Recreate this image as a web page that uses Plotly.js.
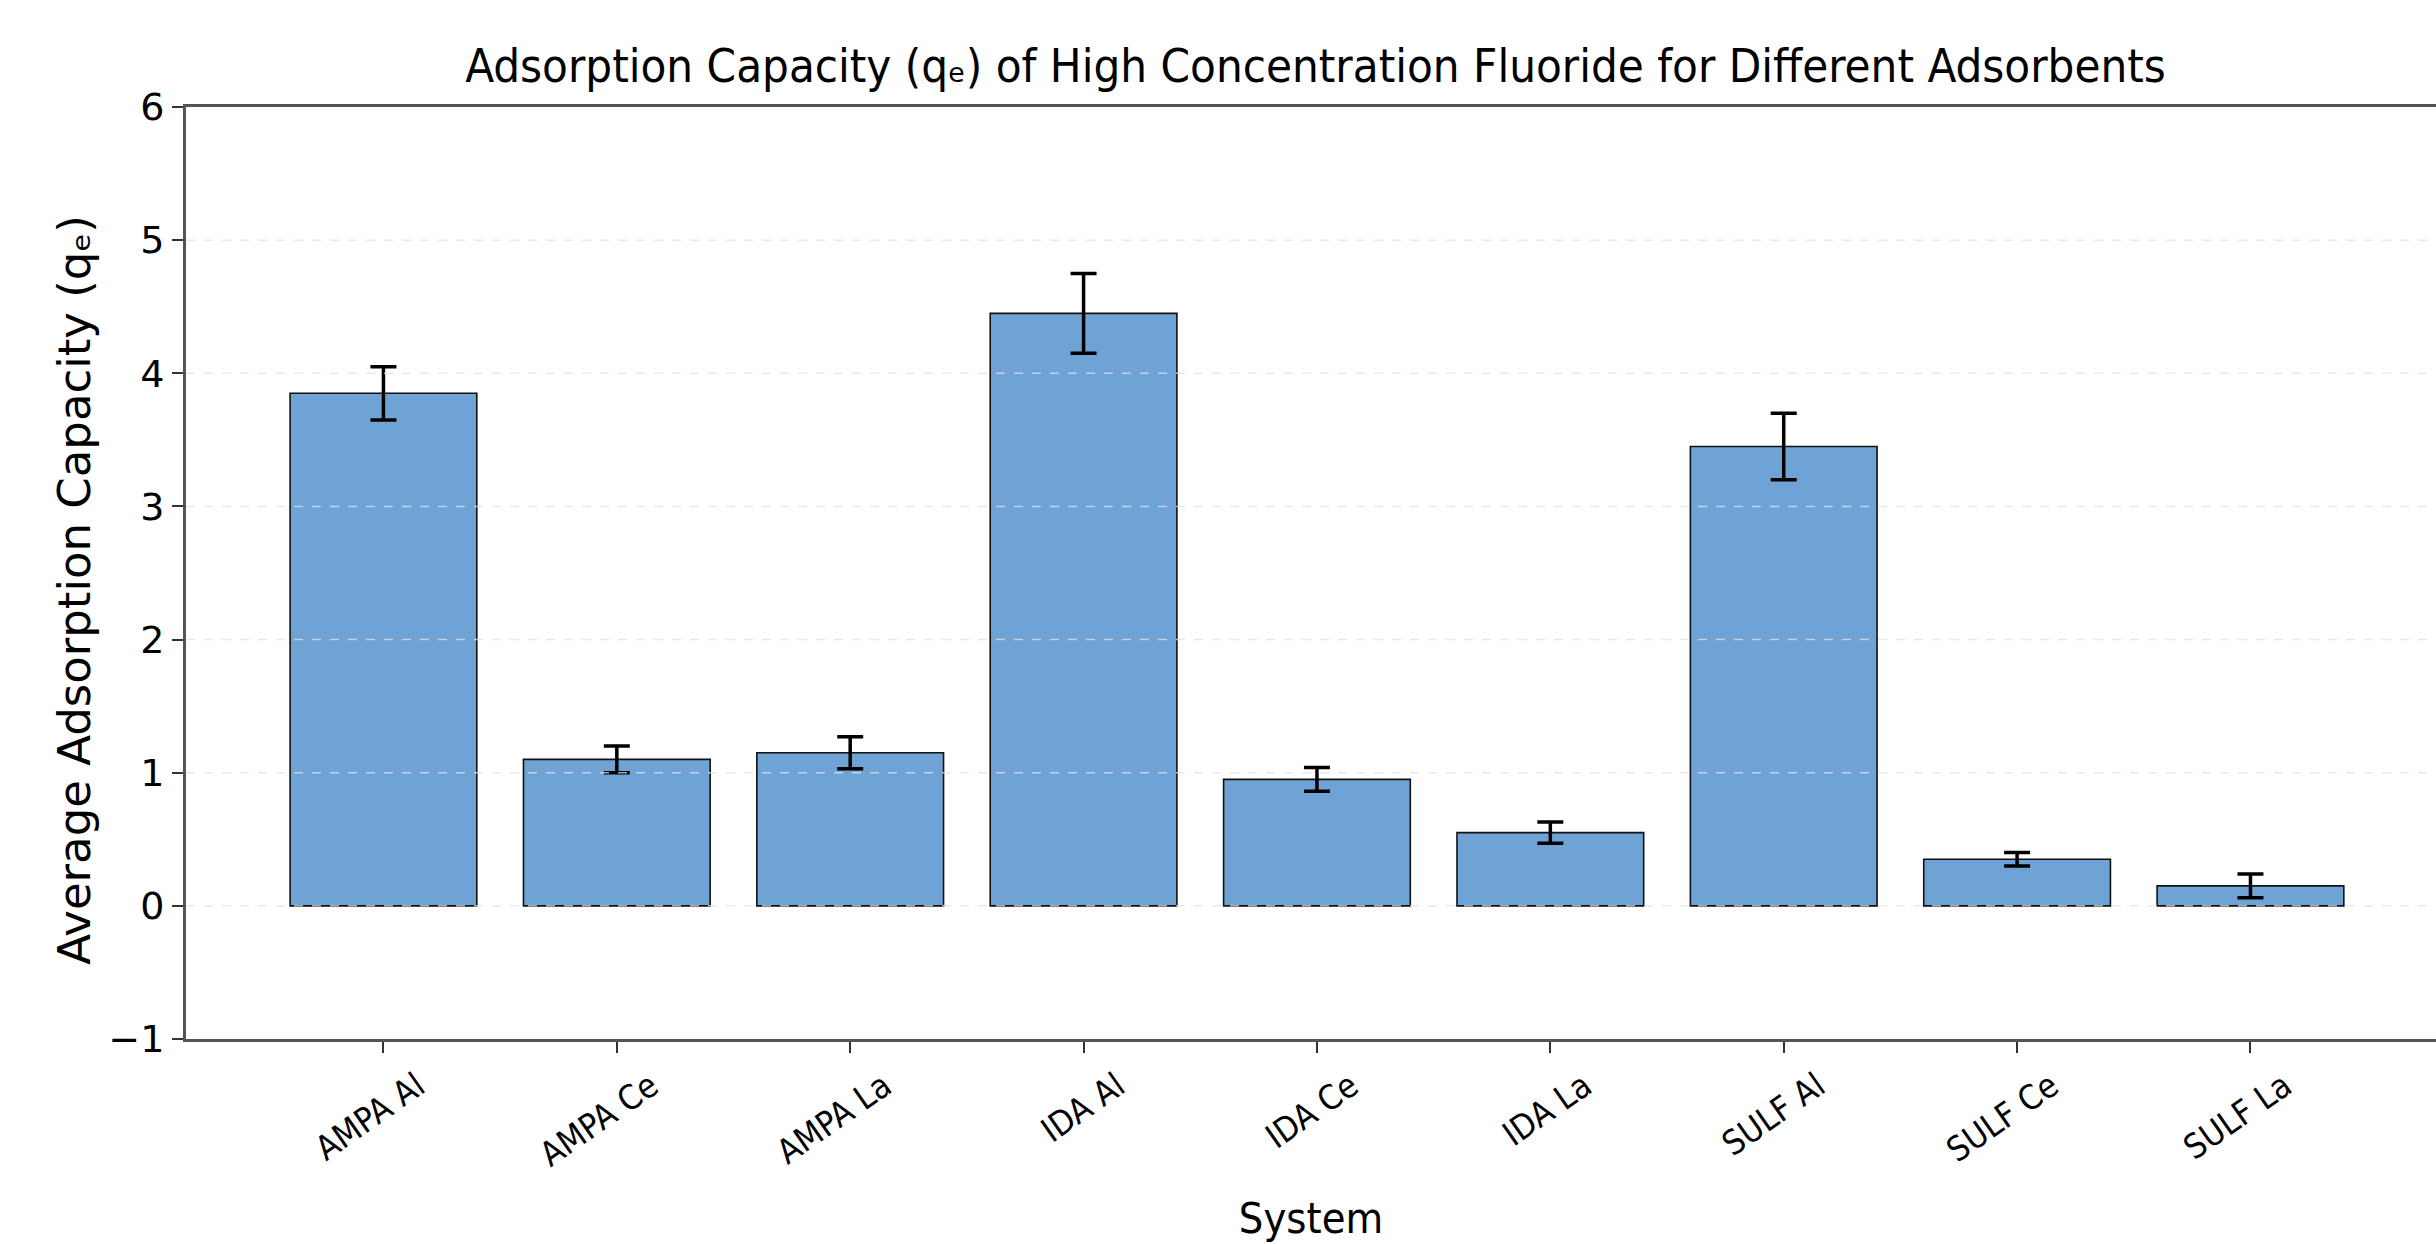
<!DOCTYPE html>
<html>
<head>
<meta charset="utf-8">
<script src="https://cdn.plot.ly/plotly-3.0.1.min.js"></script>
<style>html,body{margin:0;padding:0;background:#fff;} #chart{width:2436px;height:1244px;}</style>
</head>
<body>
<div id="chart"></div>
<script>
const systems = ["AMPA Al","AMPA Ce","AMPA La","IDA Al","IDA Ce","IDA La","SULF Al","SULF Ce","SULF La"];
const meanQe = [3.85, 1.10, 1.15, 4.45, 0.95, 0.55, 3.45, 0.35, 0.15];
const errQe = [0.20, 0.10, 0.12, 0.30, 0.09, 0.08, 0.25, 0.05, 0.09];
const yTicks = [-1, 0, 1, 2, 3, 4, 5, 6];
const yTickText = ["\u22121","0","1","2","3","4","5","6"];

const condensed = "DejaVu Sans Condensed, DejaVu Sans, sans-serif";
const wide = "DejaVu Sans, sans-serif";

const trace = {
  type: "bar",
  x: systems.map((s, i) => i),
  y: meanQe,
  width: 0.8,
  marker: {color: "#6fa3d5", line: {color: "#111", width: 1.6}},
  error_y: {type: "data", array: errQe, visible: true, color: "#000", thickness: 3.5, width: 13},
  hoverinfo: "x+y"
};

const gridShapes = yTicks.filter(v => v > -1 && v < 6).map(v => ({
  type: "line", xref: "paper", x0: 0, x1: 1, yref: "y", y0: v, y1: v,
  layer: "above", line: {color: "rgba(225,225,225,0.75)", width: 1.5, dash: "dash"}
}));

const layout = {
  width: 2436, height: 1244,
  margin: {l: 186, r: 0, t: 107, b: 205},
  paper_bgcolor: "#fff", plot_bgcolor: "#fff",
  showlegend: false,
  bargap: 0.2,
  title: {text: "Adsorption Capacity (q\u2091) of High Concentration Fluoride for Different Adsorbents",
          font: {family: condensed, size: 47, color: "#000"},
          x: 0.502, xref: "paper", xanchor: "center", y: 0.947, yref: "container", yanchor: "middle"},
  xaxis: {
    range: [-0.846, 8.795],
    tickmode: "array", tickvals: systems.map((s, i) => i), ticktext: systems,
    tickangle: -35, tickfont: {family: condensed, size: 34, color: "#000"},
    ticklabelshift: 34,
    ticks: "outside", ticklen: 11, tickwidth: 2, tickcolor: "#333",
    showline: true, linecolor: "#555", linewidth: 3, mirror: true,
    showgrid: false, zeroline: false,
    title: {text: "System", font: {family: condensed, size: 43, color: "#000"}, standoff: 30}
  },
  yaxis: {
    range: [-1, 6],
    tickmode: "array", tickvals: yTicks, ticktext: yTickText,
    tickfont: {family: wide, size: 38, color: "#000"},
    ticks: "outside", ticklen: 11, tickwidth: 2, tickcolor: "#333",
    showline: true, linecolor: "#555", linewidth: 3, mirror: false,
    showgrid: false, zeroline: false
  },
  annotations: [{
    text: "Average Adsorption Capacity (q\u2091)", textangle: -90,
    xref: "paper", yref: "paper", x: -0.0493, y: 0.482, xanchor: "center", yanchor: "middle",
    showarrow: false, font: {family: wide, size: 45, color: "#000"}
  }],
  shapes: gridShapes
};

Plotly.newPlot("chart", [trace], layout, {displayModeBar: false, staticPlot: true});
</script>
</body>
</html>
